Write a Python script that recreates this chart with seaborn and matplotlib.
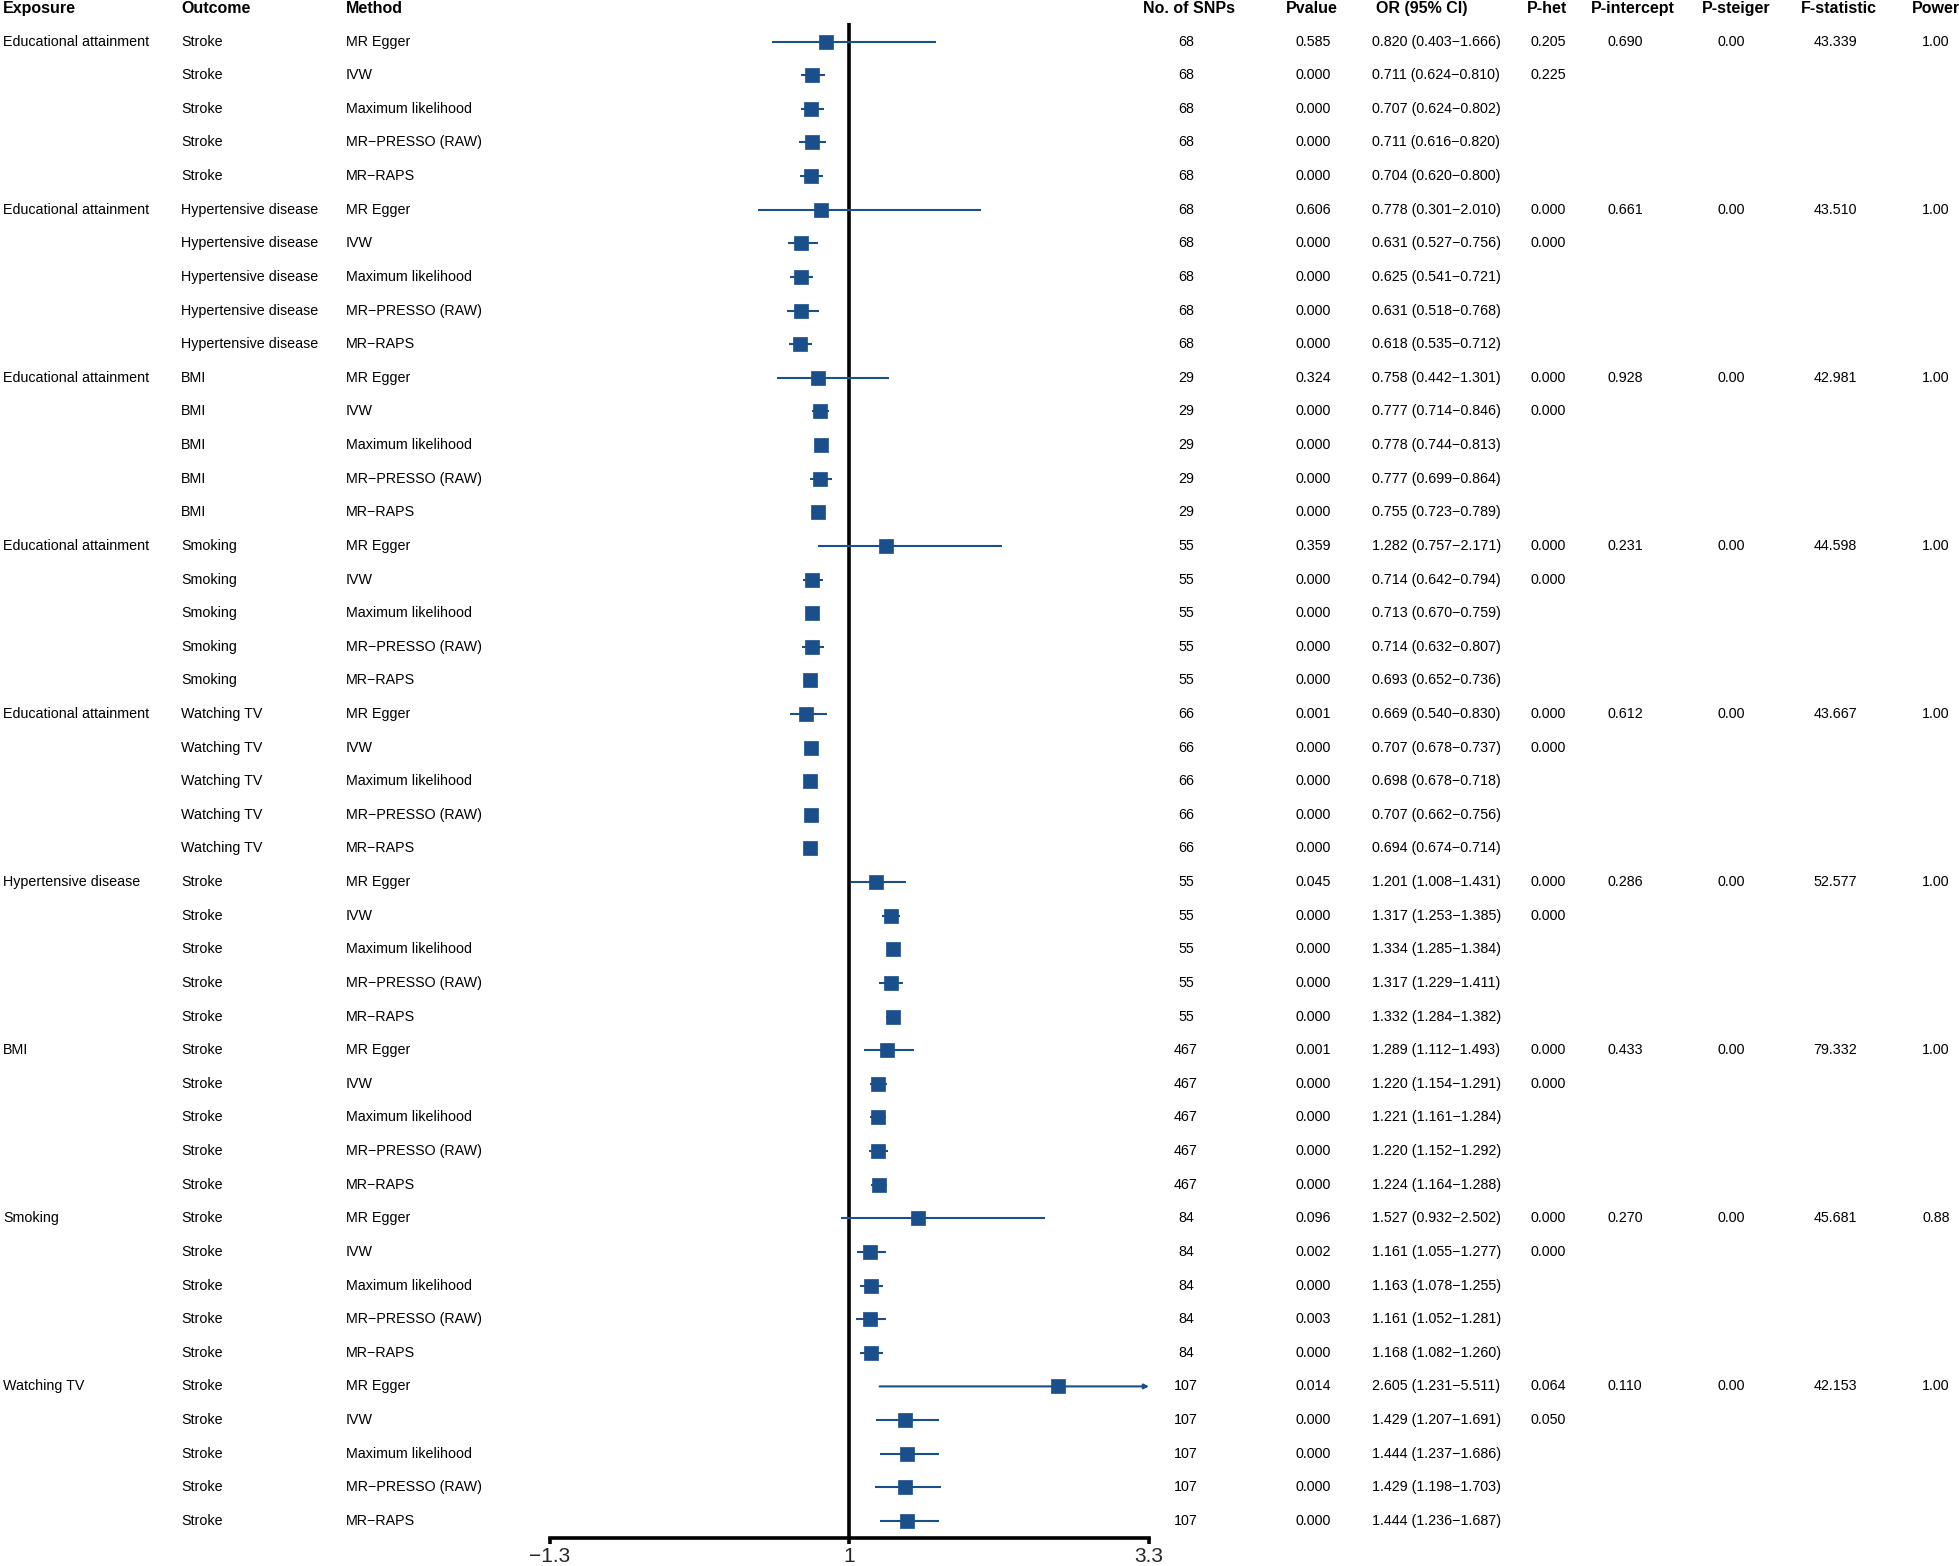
"""
Forest plot of MR results: exposures -> outcomes, five MR methods each.
"""

import numpy as np
import pandas as pd
import matplotlib
matplotlib.use("Agg")
import matplotlib.pyplot as plt
import seaborn as sns
from matplotlib.transforms import blended_transform_factory

# ---- data (one entry per exposure/outcome pair) ----
exposures = ["Educational attainment"] * 5 + ["Hypertensive disease", "BMI", "Smoking", "Watching TV"]
outcomes = ["Stroke", "Hypertensive disease", "BMI", "Smoking", "Watching TV",
            "Stroke", "Stroke", "Stroke", "Stroke"]
methods = ["MR Egger", "IVW", "Maximum likelihood", "MR\u2212PRESSO (RAW)", "MR\u2212RAPS"]
n_snps = [68, 68, 29, 55, 66, 55, 467, 84, 107]

p_het_egger = [0.205, 0.000, 0.000, 0.000, 0.000, 0.000, 0.000, 0.000, 0.064]
p_het_ivw = [0.225, 0.000, 0.000, 0.000, 0.000, 0.000, 0.000, 0.000, 0.050]
p_intercept = [0.690, 0.661, 0.928, 0.231, 0.612, 0.286, 0.433, 0.270, 0.110]
p_steiger = [0.00, 0.00, 0.00, 0.00, 0.00, 0.00, 0.00, 0.00, 0.00]
f_stat = [43.339, 43.510, 42.981, 44.598, 43.667, 52.577, 79.332, 45.681, 42.153]
power = [1.00, 1.00, 1.00, 1.00, 1.00, 1.00, 1.00, 0.88, 1.00]

# ---- data (one entry per row, 5 methods per pair) ----
pvalue = [0.585, 0.000, 0.000, 0.000, 0.000,
          0.606, 0.000, 0.000, 0.000, 0.000,
          0.324, 0.000, 0.000, 0.000, 0.000,
          0.359, 0.000, 0.000, 0.000, 0.000,
          0.001, 0.000, 0.000, 0.000, 0.000,
          0.045, 0.000, 0.000, 0.000, 0.000,
          0.001, 0.000, 0.000, 0.000, 0.000,
          0.096, 0.002, 0.000, 0.003, 0.000,
          0.014, 0.000, 0.000, 0.000, 0.000]
odds_ratio = [0.820, 0.711, 0.707, 0.711, 0.704,
              0.778, 0.631, 0.625, 0.631, 0.618,
              0.758, 0.777, 0.778, 0.777, 0.755,
              1.282, 0.714, 0.713, 0.714, 0.693,
              0.669, 0.707, 0.698, 0.707, 0.694,
              1.201, 1.317, 1.334, 1.317, 1.332,
              1.289, 1.220, 1.221, 1.220, 1.224,
              1.527, 1.161, 1.163, 1.161, 1.168,
              2.605, 1.429, 1.444, 1.429, 1.444]
ci_low = [0.403, 0.624, 0.624, 0.616, 0.620,
          0.301, 0.527, 0.541, 0.518, 0.535,
          0.442, 0.714, 0.744, 0.699, 0.723,
          0.757, 0.642, 0.670, 0.632, 0.652,
          0.540, 0.678, 0.678, 0.662, 0.674,
          1.008, 1.253, 1.285, 1.229, 1.284,
          1.112, 1.154, 1.161, 1.152, 1.164,
          0.932, 1.055, 1.078, 1.052, 1.082,
          1.231, 1.207, 1.237, 1.198, 1.236]
ci_high = [1.666, 0.810, 0.802, 0.820, 0.800,
           2.010, 0.756, 0.721, 0.768, 0.712,
           1.301, 0.846, 0.813, 0.864, 0.789,
           2.171, 0.794, 0.759, 0.807, 0.736,
           0.830, 0.737, 0.718, 0.756, 0.714,
           1.431, 1.385, 1.384, 1.411, 1.382,
           1.493, 1.291, 1.284, 1.292, 1.288,
           2.502, 1.277, 1.255, 1.281, 1.260,
           5.511, 1.691, 1.686, 1.703, 1.687]

# build the row table
rows = []
for g in range(len(exposures)):
    for m, meth in enumerate(methods):
        i = g * 5 + m
        rows.append({
            "row": i,
            "Exposure": exposures[g] if m == 0 else "",
            "Outcome": outcomes[g],
            "Method": meth,
            "SNPs": str(n_snps[g]),
            "Pvalue": f"{pvalue[i]:.3f}",
            "OR": odds_ratio[i],
            "lo": ci_low[i],
            "hi": ci_high[i],
            "ORtxt": f"{odds_ratio[i]:.3f} ({ci_low[i]:.3f}\u2212{ci_high[i]:.3f})",
            "Phet": f"{p_het_egger[g]:.3f}" if m == 0 else (f"{p_het_ivw[g]:.3f}" if m == 1 else ""),
            "Pint": f"{p_intercept[g]:.3f}" if m == 0 else "",
            "Psteiger": f"{p_steiger[g]:.2f}" if m == 0 else "",
            "F": f"{f_stat[g]:.3f}" if m == 0 else "",
            "Power": f"{power[g]:.2f}" if m == 0 else "",
        })
df = pd.DataFrame(rows)

# ---- style ----
sns.set_theme(style="white")
plt.rcParams["font.family"] = ["Liberation Sans", "DejaVu Sans"]

W, H = 1959, 1566
BLUE = "#1a4f8c"
XMIN, XMAX = -1.3, 3.3
ROW0, ROWSTEP = 41.6, 33.62   # pixel y of first row, row spacing
TOP_PX, AXIS_PX = 23, 1537.5  # top of ref line, x axis line


def py2data(py):
    return (py - ROW0) / ROWSTEP


fig = plt.figure(figsize=(W / 100, H / 100), dpi=100)
ax = fig.add_axes([550 / W, 1 - AXIS_PX / H, 599 / W, (AXIS_PX - TOP_PX) / H])

# CI lines
inside = df[df["hi"] <= XMAX]
ax.hlines(inside["row"], inside["lo"], inside["hi"], color=BLUE, lw=1.5, zorder=2)
for _, r in df[df["hi"] > XMAX].iterrows():
    ax.annotate("", xy=(XMAX, r["row"]), xytext=(r["lo"], r["row"]),
                arrowprops=dict(arrowstyle="-|>", color=BLUE, lw=1.5,
                                mutation_scale=7, shrinkA=0, shrinkB=0), zorder=2)

# point estimates
sns.scatterplot(data=df, x="OR", y="row", marker="s", s=105, color=BLUE,
                edgecolor=BLUE, linewidth=0.5, ax=ax, zorder=3, legend=False)

ax.axvline(1, color="black", lw=2.6, zorder=1)
ax.set_xlim(XMIN, XMAX)
ax.set_ylim(py2data(AXIS_PX), py2data(TOP_PX))
for s in ["left", "top", "right"]:
    ax.spines[s].set_visible(False)
ax.spines["bottom"].set_linewidth(2.6)
ax.spines["bottom"].set_color("black")
ax.set_yticks([])
ax.set_xticks([XMIN, 1, XMAX])
ax.set_xticklabels(["\u22121.3", "1", "3.3"])
ax.tick_params(axis="x", direction="out", length=4, width=2.6, color="black",
               labelsize=15, pad=2.5, bottom=True)
ax.set_xlabel("")
ax.set_ylabel("")
ax.grid(False)

# ---- table text ----
tr = blended_transform_factory(fig.transFigure, ax.transData)
FS = 10.3


def put(xpx, y, s, ha, bold=False):
    ax.text(xpx / W, y, s, transform=tr, ha=ha, va="center", fontsize=11.5 if bold else FS,
            fontweight="bold" if bold else "normal", color="black", clip_on=False)


# (header, header x, header ha, column, value x, value ha)
columns = [
    ("Exposure", 3, "left", "Exposure", 3, "left"),
    ("Outcome", 181, "left", "Outcome", 181, "left"),
    ("Method", 346, "left", "Method", 346, "left"),
    ("No. of SNPs", 1189, "center", "SNPs", 1186, "center"),
    ("Pvalue", 1312, "center", "Pvalue", 1313, "center"),
    ("OR (95% CI)", 1376, "left", "ORtxt", 1372, "left"),
    ("P-het", 1547, "center", "Phet", 1548, "center"),
    ("P-intercept", 1633, "center", "Pint", 1625, "center"),
    ("P-steiger", 1736, "center", "Psteiger", 1731, "center"),
    ("F-statistic", 1839, "center", "F", 1835, "center"),
    ("Power", 1936, "center", "Power", 1936, "center"),
]

head_y = py2data(8.5)
for head, hx, hha, col, vx, vha in columns:
    put(hx, head_y, head, hha, bold=True)
    for _, r in df.iterrows():
        if r[col]:
            put(vx, r["row"], r[col], vha)

plt.savefig("out.png", dpi=100)
print("saved out.png")
